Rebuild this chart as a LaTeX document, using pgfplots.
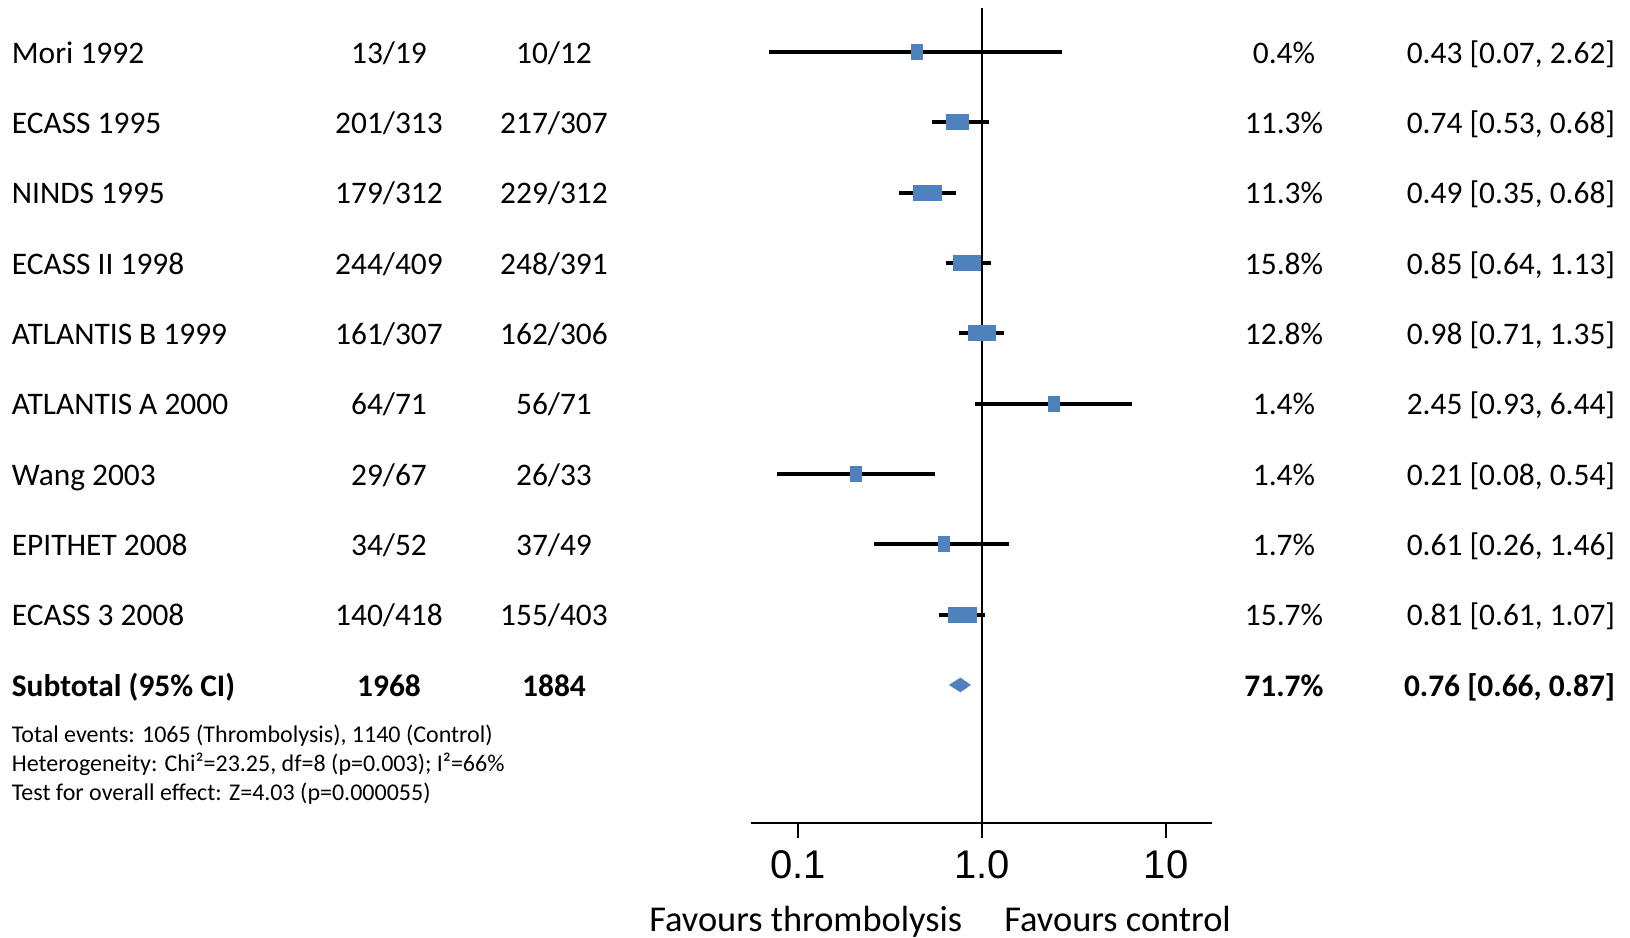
\documentclass[border=0pt]{standalone}
\usepackage{pgfplots}
\pgfplotsset{compat=1.18}
\usepackage{pgfplotstable}
\usepackage{fontspec}
\setmainfont{Carlito}
\newfontfamily\arialfont{Liberation Sans}
\definecolor{fpblue}{HTML}{4F81BD}

% filled box, half width taken per point from the table (pt)
\pgfdeclareplotmark{fpbox}{%
  \pgfpathrectangle{\pgfpoint{-\boxhw pt}{-4pt}}{\pgfpoint{2*\boxhw pt}{8pt}}%
  \pgfusepathqfill}

% row, odds ratio, CI ends as drawn, box half width
\pgfplotstableread{
y   or     lo      hi     hw
-1  0.443  0.0695  2.71   3
-2  0.736  0.537   1.087  5.75
-3  0.506  0.354   0.72   7.25
-4  0.829  0.637   1.115  7
-5  1.0    0.753   1.32   7
-6  2.46   0.916   6.56   3
-7  0.207  0.0769  0.555  3
-8  0.621  0.258   1.40   3
-9  0.784  0.586   1.038  7.25
}\studies

\newcommand\rowfont{\fontsize{15.7}{18}\selectfont}
\newcommand\studyrow[6]{%
  \pgfmathsetmacro\yy{379.9-(#1-1)*35.165}%
  \node[anchor=base west,inner sep=0pt,font=\rowfont] at (-369.6pt,\yy pt) {#2};
  \node[anchor=base,inner sep=0pt,font=\rowfont] at (-180.85pt,\yy pt) {#3};
  \node[anchor=base,inner sep=0pt,font=\rowfont] at (-98.35pt,\yy pt) {#4};
  \node[anchor=base,inner sep=0pt,font=\rowfont] at (266.65pt,\yy pt) {#5};
  \node[anchor=base east,inner sep=0pt,font=\rowfont] at (432.4pt,\yy pt) {#6};
}

\begin{document}
\begin{tikzpicture}
\begin{axis}[
  scale only axis,
  width=230.5pt, height=407.5pt,
  xmode=log, xmin=0.0553, xmax=17.71,
  ymin=-11.963, ymax=-0.374,
  axis x line*=bottom, axis y line=none,
  axis line style={line width=1pt},
  xtick={0.1,1,10}, xticklabels={0.1,1.0,10},
  xminorticks=false,
  xtick align=outside, major tick length=7.5pt,
  tick style={black, line width=1pt},
  xticklabel style={font=\arialfont\fontsize{20}{24}\selectfont, yshift=-3pt},
]
% line of no effect
\addplot[black, line width=1pt] coordinates {(1,-0.374) (1,-11.963)};

% confidence intervals
\addplot[black, line width=2pt, unbounded coords=jump] coordinates {
  (0.0695,-1) (2.71,-1) (nan,nan)
  (0.537,-2) (1.087,-2) (nan,nan)
  (0.354,-3) (0.72,-3) (nan,nan)
  (0.637,-4) (1.115,-4) (nan,nan)
  (0.753,-5) (1.32,-5) (nan,nan)
  (0.916,-6) (6.56,-6) (nan,nan)
  (0.0769,-7) (0.555,-7) (nan,nan)
  (0.258,-8) (1.40,-8) (nan,nan)
  (0.586,-9) (1.038,-9)
};

% study boxes
\addplot[scatter, only marks, mark=fpbox,
  scatter/use mapped color={draw=fpblue,fill=fpblue},
  visualization depends on={\thisrow{hw} \as \boxhw}]
  table[x=or, y=y] {\studies};

% pooled estimate
\addplot[fill=fpblue, draw=none] coordinates {
  (0.66,-10) (0.764,-9.896) (0.87,-10) (0.764,-10.104)} -- cycle;
\end{axis}

\studyrow{1}{Mori 1992}{13/19}{10/12}{0.4\%}{0.43 [0.07, 2.62]}
\studyrow{2}{ECASS 1995}{201/313}{217/307}{11.3\%}{0.74 [0.53, 0.68]}
\studyrow{3}{NINDS 1995}{179/312}{229/312}{11.3\%}{0.49 [0.35, 0.68]}
\studyrow{4}{ECASS II 1998}{244/409}{248/391}{15.8\%}{0.85 [0.64, 1.13]}
\studyrow{5}{ATLANTIS B 1999}{161/307}{162/306}{12.8\%}{0.98 [0.71, 1.35]}
\studyrow{6}{ATLANTIS A 2000}{64/71}{56/71}{1.4\%}{2.45 [0.93, 6.44]}
\studyrow{7}{Wang 2003}{29/67}{26/33}{1.4\%}{0.21 [0.08, 0.54]}
\studyrow{8}{EPITHET 2008}{34/52}{37/49}{1.7\%}{0.61 [0.26, 1.46]}
\studyrow{9}{ECASS 3 2008}{140/418}{155/403}{15.7\%}{0.81 [0.61, 1.07]}
\studyrow{10}{\bfseries Subtotal (95\% CI)}{\bfseries 1968}{\bfseries 1884}{\bfseries 71.7\%}{\bfseries 0.76 [0.66, 0.87]}

\begin{scope}[every node/.style={anchor=base west,inner sep=0pt,font=\fontsize{12}{14}\selectfont}]
\node at (-369.6pt,40.25pt) {Total events: 1065 (Thrombolysis), 1140 (Control)};
\node at (-369.6pt,25.75pt) {Heterogeneity: Chi²=23.25, df=8 (p=0.003); I²=66\%};
\node at (-369.6pt,11.2pt) {Test for overall effect: Z=4.03 (p=0.000055)};
\end{scope}

\node[anchor=base east,inner sep=0pt,font=\fontsize{18.2}{22}\selectfont] at (105.95pt,-54.35pt) {Favours thrombolysis};
\node[anchor=base west,inner sep=0pt,font=\fontsize{18.2}{22}\selectfont] at (126.65pt,-54.35pt) {Favours control};

\pgfresetboundingbox
\path[use as bounding box] (-375.35pt,-57.5pt) rectangle (439.65pt,411.5pt);
\end{tikzpicture}
\end{document}
